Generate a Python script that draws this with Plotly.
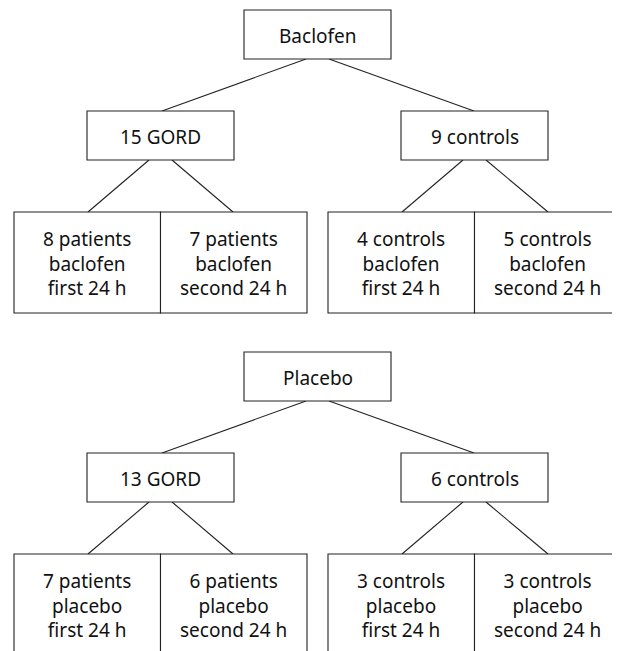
import plotly.graph_objects as go

# study arms and subject counts
arms = ["Baclofen", "Placebo"]
drug = ["baclofen", "placebo"]
gord_n = [15, 13]
control_n = [9, 6]
gord_first = [8, 7]
gord_second = [7, 6]
control_first = [4, 3]
control_second = [5, 3]
periods = ["first 24 h", "second 24 h"]

W, H = 620, 651
PAGE_PAD = 8  # browser body margin
FONT = dict(family="Noto Sans, Lato, sans-serif", size=19, color="#111")
LINE = dict(color="#222", width=1.1)

fig = go.Figure()
shapes = []
annotations = []


def box(x0, x1, y0, y1, text):
    shapes.append(dict(type="rect", x0=x0, x1=x1, y0=y0, y1=y1, line=LINE,
                       fillcolor="white", layer="above"))
    annotations.append(dict(x=(x0 + x1) / 2, y=(y0 + y1) / 2 + 1, text=text,
                            showarrow=False, font=FONT, xanchor="center",
                            yanchor="middle"))


def link(xa, ya, xb, yb):
    shapes.append(dict(type="line", x0=xa, y0=ya, x1=xb, y1=yb, line=LINE,
                       layer="below"))


section_offset = 342
for i, arm in enumerate(arms):
    dy = i * section_offset
    top = (10 + dy, 59 + dy)
    mid = (111 + dy, 160 + dy)
    bot = (212 + dy, 313 + dy)

    box(244, 391, *top, arm)
    box(87, 234, *mid, f"{gord_n[i]} GORD")
    box(401, 548, *mid, f"{control_n[i]} controls")

    leaves = [
        (14, 160.5, f"{gord_first[i]} patients", periods[0]),
        (160.5, 307, f"{gord_second[i]} patients", periods[1]),
        (328, 474.5, f"{control_first[i]} controls", periods[0]),
        (474.5, 621, f"{control_second[i]} controls", periods[1]),
    ]
    for x0, x1, who, when in leaves:
        box(x0, x1, *bot, f"{who}<br>{drug[i]}<br>{when}")

    link(306, top[1], 162, mid[0])
    link(329, top[1], 474, mid[0])
    link(149, mid[1], 88, bot[0])
    link(172, mid[1], 233, bot[0])
    link(463, mid[1], 402, bot[0])
    link(486, mid[1], 548, bot[0])

fig.update_layout(
    width=W - PAGE_PAD, height=H - PAGE_PAD,
    margin=dict(l=0, r=0, t=0, b=0),
    paper_bgcolor="white", plot_bgcolor="white",
    xaxis=dict(range=[PAGE_PAD, W], visible=False, fixedrange=True),
    yaxis=dict(range=[H, PAGE_PAD], visible=False, fixedrange=True),
    shapes=shapes, annotations=annotations,
    showlegend=False,
)
fig.write_html("out.html")
